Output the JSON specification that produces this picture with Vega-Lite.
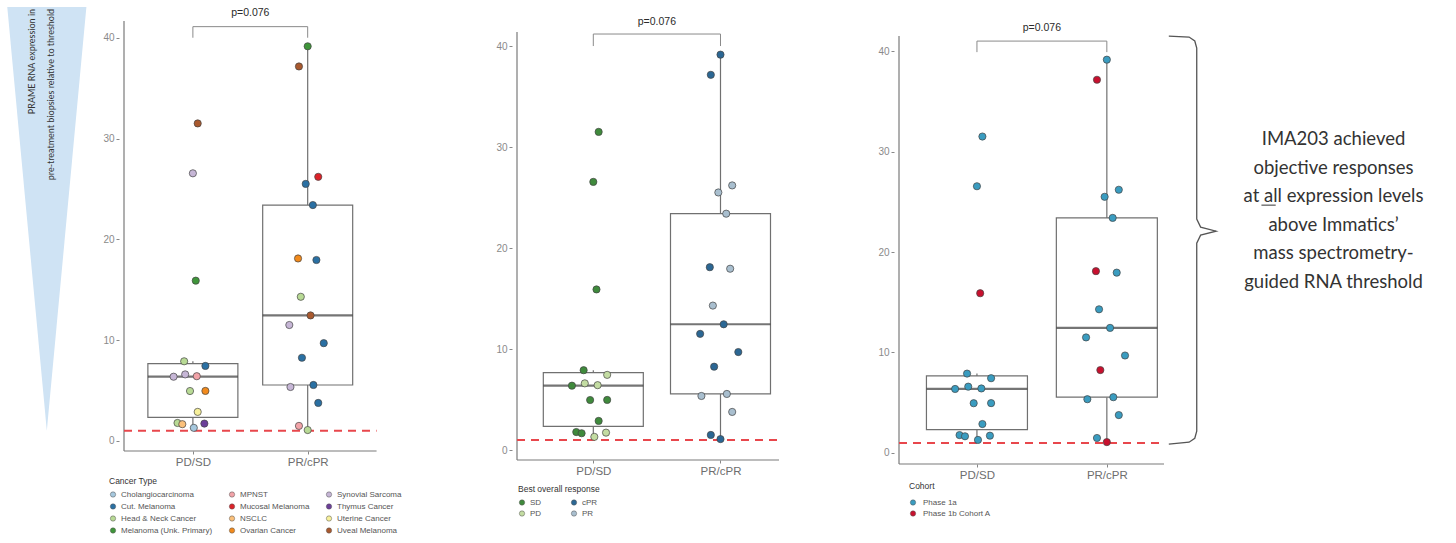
{
  "$schema": "https://vega.github.io/schema/vega-lite/v6.json",
  "padding": {"left": 7, "top": 6, "right": 5, "bottom": 2},
  "background": "white",
  "bounds": "flush",
  "spacing": 110,
  "config": {
    "view": {"stroke": null},
    "font": "Liberation Sans",
    "legend": {"labelFont": "Liberation Sans", "titleFont": "Liberation Sans"}
  },
  "resolve": {"scale": {"color": "independent"}, "legend": {"color": "independent"}},
  "datasets": {
    "pts": [
      {"grp": 1, "j": 0.042, "v": 31.5, "cancer": "Uveal Melanoma", "bor": "SD", "cohort": "Phase 1a"},
      {"grp": 1, "j": 0.0, "v": 26.55, "cancer": "Synovial Sarcoma", "bor": "SD", "cohort": "Phase 1a"},
      {"grp": 1, "j": 0.025, "v": 15.9, "cancer": "Melanoma (Unk. Primary)", "bor": "SD", "cohort": "Phase 1b Cohort A"},
      {"grp": 1, "j": -0.076, "v": 7.9, "cancer": "Head & Neck Cancer", "bor": "SD", "cohort": "Phase 1a"},
      {"grp": 1, "j": 0.109, "v": 7.44, "cancer": "Cut. Melanoma", "bor": "PD", "cohort": "Phase 1a"},
      {"grp": 1, "j": -0.168, "v": 6.37, "cancer": "Synovial Sarcoma", "bor": "SD", "cohort": "Phase 1a"},
      {"grp": 1, "j": -0.067, "v": 6.6, "cancer": "Synovial Sarcoma", "bor": "PD", "cohort": "Phase 1a"},
      {"grp": 1, "j": 0.034, "v": 6.42, "cancer": "MPNST", "bor": "PD", "cohort": "Phase 1a"},
      {"grp": 1, "j": -0.025, "v": 4.95, "cancer": "Head & Neck Cancer", "bor": "SD", "cohort": "Phase 1a"},
      {"grp": 1, "j": 0.109, "v": 4.96, "cancer": "Ovarian Cancer", "bor": "SD", "cohort": "Phase 1a"},
      {"grp": 1, "j": 0.042, "v": 2.88, "cancer": "Uterine Cancer", "bor": "SD", "cohort": "Phase 1a"},
      {"grp": 1, "j": -0.134, "v": 1.78, "cancer": "Head & Neck Cancer", "bor": "SD", "cohort": "Phase 1a"},
      {"grp": 1, "j": -0.092, "v": 1.66, "cancer": "NSCLC", "bor": "SD", "cohort": "Phase 1a"},
      {"grp": 1, "j": 0.008, "v": 1.3, "cancer": "Cholangiocarcinoma", "bor": "PD", "cohort": "Phase 1a"},
      {"grp": 1, "j": 0.1, "v": 1.72, "cancer": "Thymus Cancer", "bor": "PD", "cohort": "Phase 1a"},
      {"grp": 2, "j": 0.0, "v": 39.15, "cancer": "Melanoma (Unk. Primary)", "bor": "cPR", "cohort": "Phase 1a"},
      {"grp": 2, "j": -0.076, "v": 37.15, "cancer": "Uveal Melanoma", "bor": "cPR", "cohort": "Phase 1b Cohort A"},
      {"grp": 2, "j": 0.092, "v": 26.2, "cancer": "Mucosal Melanoma", "bor": "PR", "cohort": "Phase 1a"},
      {"grp": 2, "j": -0.017, "v": 25.5, "cancer": "Cut. Melanoma", "bor": "PR", "cohort": "Phase 1a"},
      {"grp": 2, "j": 0.045, "v": 23.4, "cancer": "Cut. Melanoma", "bor": "PR", "cohort": "Phase 1a"},
      {"grp": 2, "j": -0.084, "v": 18.1, "cancer": "Ovarian Cancer", "bor": "cPR", "cohort": "Phase 1b Cohort A"},
      {"grp": 2, "j": 0.076, "v": 17.95, "cancer": "Cut. Melanoma", "bor": "PR", "cohort": "Phase 1a"},
      {"grp": 2, "j": -0.06, "v": 14.3, "cancer": "Head & Neck Cancer", "bor": "PR", "cohort": "Phase 1a"},
      {"grp": 2, "j": 0.025, "v": 12.45, "cancer": "Uveal Melanoma", "bor": "cPR", "cohort": "Phase 1a"},
      {"grp": 2, "j": -0.16, "v": 11.5, "cancer": "Synovial Sarcoma", "bor": "cPR", "cohort": "Phase 1a"},
      {"grp": 2, "j": 0.14, "v": 9.7, "cancer": "Cut. Melanoma", "bor": "cPR", "cohort": "Phase 1a"},
      {"grp": 2, "j": -0.05, "v": 8.25, "cancer": "Cut. Melanoma", "bor": "cPR", "cohort": "Phase 1b Cohort A"},
      {"grp": 2, "j": -0.15, "v": 5.35, "cancer": "Synovial Sarcoma", "bor": "PR", "cohort": "Phase 1a"},
      {"grp": 2, "j": 0.05, "v": 5.55, "cancer": "Cut. Melanoma", "bor": "PR", "cohort": "Phase 1a"},
      {"grp": 2, "j": 0.092, "v": 3.77, "cancer": "Cut. Melanoma", "bor": "PR", "cohort": "Phase 1a"},
      {"grp": 2, "j": -0.076, "v": 1.49, "cancer": "MPNST", "bor": "cPR", "cohort": "Phase 1a"},
      {"grp": 2, "j": 0.0, "v": 1.08, "cancer": "Head & Neck Cancer", "bor": "cPR", "cohort": "Phase 1b Cohort A"}
    ]
  },
  "hconcat": [
    {
      "width": 283,
      "height": 430,
      "layer": [
        {
          "data": {"values": [{"a": 0.4, "b": 2.6, "c": -1, "d": -1}, {"a": 0.4, "b": 0.4, "c": -1, "d": 41.66}]},
          "mark": {"type": "rule", "color": "#7a7a7a", "strokeWidth": 1.2},
          "encoding": {
            "x": {"field": "a", "type": "quantitative", "scale": {"domain": [0.4, 2.778], "nice": false, "zero": false},
                  "axis": {"values": [1, 2], "labelExpr": "datum.value == 1 ? 'PD/SD' : 'PR/cPR'", "title": null, "domain": false, "grid": false, "ticks": true, "tickSize": 3, "tickColor": "#888888", "labelColor": "#6e6e6e", "labelFont": "Liberation Sans", "labelFontSize": 11.5, "labelPadding": 2}},
            "x2": {"field": "b"},
            "y": {"field": "c", "type": "quantitative", "scale": {"domain": [-1, 41.66], "nice": false, "zero": false},
                  "axis": {"values": [0, 10, 20, 30, 40], "title": null, "domain": false, "grid": false, "ticks": true, "tickSize": 3, "tickColor": "#888888", "labelColor": "#8a8a8a", "labelFont": "Liberation Sans", "labelFontSize": 10, "labelPadding": 2}},
            "y2": {"field": "d"}
          }
        },
        {
          "data": {"values": [{"tx": -0.6168, "tx2": 0.0723, "ty": 43.05}, {"tx": -0.2723, "tx2": -0.2723, "ty": 1.0}]},
          "mark": {"type": "area", "orient": "horizontal", "color": "#cfe3f4"},
          "encoding": {
            "y": {"field": "ty", "type": "quantitative"},
            "x": {"field": "tx", "type": "quantitative", "stack": null},
            "x2": {"field": "tx2"}
          }
        },
        {
          "data": {"values": [
            {"tx": -0.398, "ty": 42.86, "t": "PRAME RNA expression in"},
            {"tx": -0.2387, "ty": 42.86, "t": "pre-treatment biopsies relative to threshold"}
          ]},
          "mark": {"type": "text", "angle": 270, "align": "right", "baseline": "middle", "font": "Lato", "fontSize": 9, "color": "#333333"},
          "encoding": {
            "x": {"field": "tx", "type": "quantitative"},
            "y": {"field": "ty", "type": "quantitative"},
            "text": {"field": "t"}
          }
        },
        {
          "data": {"name": "pts"},
          "mark": {"type": "boxplot", "orient": "vertical", "extent": 1.5, "size": 90, "outliers": false, "ticks": false,
                   "box": {"fill": "white", "stroke": "#707070", "strokeWidth": 1.2},
                   "median": {"color": "#3a3a3a", "thickness": 2.2},
                   "rule": {"color": "#707070", "strokeWidth": 1.2}},
          "encoding": {
            "x": {"field": "grp", "type": "quantitative"},
            "y": {"field": "v", "type": "quantitative"}
          }
        },
        {
          "data": {"values": [{"a": 0.4, "b": 2.6, "c": 1}]},
          "mark": {"type": "rule", "color": "#e8474c", "strokeDash": [8, 6], "strokeWidth": 2},
          "encoding": {
            "x": {"field": "a", "type": "quantitative"},
            "x2": {"field": "b"},
            "y": {"field": "c", "type": "quantitative"}
          }
        },
        {
          "data": {"values": [{"a": 1, "b": 2, "c": 41.1, "d": 41.1}, {"a": 1, "b": 1, "c": 40.0, "d": 41.1}, {"a": 2, "b": 2, "c": 40.0, "d": 41.1}]},
          "mark": {"type": "rule", "color": "#8a8a8a", "strokeWidth": 1},
          "encoding": {
            "x": {"field": "a", "type": "quantitative"},
            "x2": {"field": "b"},
            "y": {"field": "c", "type": "quantitative"},
            "y2": {"field": "d"}
          }
        },
        {
          "data": {"values": [{"px": 1.5, "py": 42.46, "t": "p=0.076"}]},
          "mark": {"type": "text", "fontSize": 10.5, "color": "#2a2a2a", "baseline": "middle"},
          "encoding": {
            "x": {"field": "px", "type": "quantitative"},
            "y": {"field": "py", "type": "quantitative"},
            "text": {"field": "t"}
          }
        },
        {
          "data": {"name": "pts"},
          "transform": [{"calculate": "datum.grp + datum.j", "as": "xp"}],
          "mark": {"type": "circle", "size": 52, "opacity": 1, "stroke": "#444444", "strokeWidth": 0.7},
          "encoding": {
            "x": {"field": "xp", "type": "quantitative"},
            "y": {"field": "v", "type": "quantitative"},
            "color": {"field": "cancer", "type": "nominal",
              "scale": {"domain": ["Cholangiocarcinoma", "Cut. Melanoma", "Head & Neck Cancer", "Melanoma (Unk. Primary)", "MPNST", "Mucosal Melanoma", "NSCLC", "Ovarian Cancer", "Synovial Sarcoma", "Thymus Cancer", "Uterine Cancer", "Uveal Melanoma"],
                        "range": ["#a6c8de", "#2a70a3", "#b8da95", "#3f953a", "#f2a3a8", "#dc2228", "#fbc07a", "#f28a1c", "#c6b6d6", "#6b3f98", "#f7f09a", "#a9592e"]},
              "legend": {"title": "Cancer Type", "orient": "none", "legendX": -10, "legendY": 456, "columns": 3, "columnPadding": 15, "rowPadding": 4, "symbolType": "circle", "symbolSize": 28, "labelFontSize": 8, "titleFontSize": 8.5, "titleFontWeight": "normal", "titleColor": "#333333", "labelColor": "#555555", "titlePadding": 5, "labelOffset": 4, "symbolStrokeColor": "#555555", "symbolStrokeWidth": 0.5}
            }
          }
        }
      ]
    },
    {
      "width": 272,
      "height": 439,
      "layer": [
        {
          "data": {"values": [{"a": 0.4, "b": 2.46, "c": -0.99, "d": -0.99}, {"a": 0.4, "b": 0.4, "c": -0.99, "d": 41.4}]},
          "mark": {"type": "rule", "color": "#7a7a7a", "strokeWidth": 1.2},
          "encoding": {
            "x": {"field": "a", "type": "quantitative", "scale": {"domain": [0.4, 2.46], "nice": false, "zero": false},
                  "axis": {"values": [1, 2], "labelExpr": "datum.value == 1 ? 'PD/SD' : 'PR/cPR'", "title": null, "domain": false, "grid": false, "ticks": true, "tickSize": 3, "tickColor": "#888888", "labelColor": "#6e6e6e", "labelFont": "Liberation Sans", "labelFontSize": 11.5, "labelPadding": 2}},
            "x2": {"field": "b"},
            "y": {"field": "c", "type": "quantitative", "scale": {"domain": [-0.99, 42.48], "nice": false, "zero": false},
                  "axis": {"values": [0, 10, 20, 30, 40], "title": null, "domain": false, "grid": false, "ticks": true, "tickSize": 3, "tickColor": "#888888", "labelColor": "#8a8a8a", "labelFont": "Liberation Sans", "labelFontSize": 10, "labelPadding": 2}},
            "y2": {"field": "d"}
          }
        },
        {
          "data": {"name": "pts"},
          "mark": {"type": "boxplot", "orient": "vertical", "extent": 1.5, "size": 100, "outliers": false, "ticks": false,
                   "box": {"fill": "white", "stroke": "#707070", "strokeWidth": 1.2},
                   "median": {"color": "#3a3a3a", "thickness": 2.2},
                   "rule": {"color": "#707070", "strokeWidth": 1.2}},
          "encoding": {
            "x": {"field": "grp", "type": "quantitative"},
            "y": {"field": "v", "type": "quantitative"}
          }
        },
        {
          "data": {"values": [{"a": 0.4, "b": 2.46, "c": 1}]},
          "mark": {"type": "rule", "color": "#e8474c", "strokeDash": [8, 6], "strokeWidth": 2},
          "encoding": {
            "x": {"field": "a", "type": "quantitative"},
            "x2": {"field": "b"},
            "y": {"field": "c", "type": "quantitative"}
          }
        },
        {
          "data": {"values": [{"a": 1, "b": 2, "c": 41.19, "d": 41.19}, {"a": 1, "b": 1, "c": 40.0, "d": 41.19}, {"a": 2, "b": 2, "c": 40.0, "d": 41.19}]},
          "mark": {"type": "rule", "color": "#8a8a8a", "strokeWidth": 1},
          "encoding": {
            "x": {"field": "a", "type": "quantitative"},
            "x2": {"field": "b"},
            "y": {"field": "c", "type": "quantitative"},
            "y2": {"field": "d"}
          }
        },
        {
          "data": {"values": [{"px": 1.5, "py": 42.4, "t": "p=0.076"}]},
          "mark": {"type": "text", "fontSize": 10.5, "color": "#2a2a2a", "baseline": "middle"},
          "encoding": {
            "x": {"field": "px", "type": "quantitative"},
            "y": {"field": "py", "type": "quantitative"},
            "text": {"field": "t"}
          }
        },
        {
          "data": {"name": "pts"},
          "transform": [{"calculate": "datum.grp + datum.j", "as": "xp"}],
          "mark": {"type": "circle", "size": 52, "opacity": 1, "stroke": "#444444", "strokeWidth": 0.7},
          "encoding": {
            "x": {"field": "xp", "type": "quantitative"},
            "y": {"field": "v", "type": "quantitative"},
            "color": {"field": "bor", "type": "nominal",
              "scale": {"domain": ["SD", "PD", "cPR", "PR"], "range": ["#3f8a3c", "#c3dca2", "#2b6794", "#a9bfcf"]},
              "legend": {"title": "Best overall response", "orient": "none", "legendX": 6, "legendY": 464, "columns": 2, "columnPadding": 28, "rowPadding": 3, "symbolType": "circle", "symbolSize": 28, "labelFontSize": 8, "titleFontSize": 8.5, "titleFontWeight": "normal", "titleColor": "#333333", "labelColor": "#555555", "titlePadding": 5, "labelOffset": 4, "symbolStrokeColor": "#555555", "symbolStrokeWidth": 0.5}
            }
          }
        }
      ]
    },
    {
      "width": 275,
      "height": 443,
      "layer": [
        {
          "data": {"values": [{"a": 0.4, "b": 2.44, "c": -1.1, "d": -1.1}, {"a": 0.4, "b": 0.4, "c": -1.1, "d": 41.5}]},
          "mark": {"type": "rule", "color": "#7a7a7a", "strokeWidth": 1.2},
          "encoding": {
            "x": {"field": "a", "type": "quantitative", "scale": {"domain": [0.4, 2.44], "nice": false, "zero": false},
                  "axis": {"values": [1, 2], "labelExpr": "datum.value == 1 ? 'PD/SD' : 'PR/cPR'", "title": null, "domain": false, "grid": false, "ticks": true, "tickSize": 3, "tickColor": "#888888", "labelColor": "#6e6e6e", "labelFont": "Liberation Sans", "labelFontSize": 11.5, "labelPadding": 2}},
            "x2": {"field": "b"},
            "y": {"field": "c", "type": "quantitative", "scale": {"domain": [-1.1, 43.0], "nice": false, "zero": false},
                  "axis": {"values": [0, 10, 20, 30, 40], "title": null, "domain": false, "grid": false, "ticks": true, "tickSize": 3, "tickColor": "#888888", "labelColor": "#8a8a8a", "labelFont": "Liberation Sans", "labelFontSize": 10, "labelPadding": 2}},
            "y2": {"field": "d"}
          }
        },
        {
          "data": {"name": "pts"},
          "mark": {"type": "boxplot", "orient": "vertical", "extent": 1.5, "size": 101, "outliers": false, "ticks": false,
                   "box": {"fill": "white", "stroke": "#707070", "strokeWidth": 1.2},
                   "median": {"color": "#3a3a3a", "thickness": 2.2},
                   "rule": {"color": "#707070", "strokeWidth": 1.2}},
          "encoding": {
            "x": {"field": "grp", "type": "quantitative"},
            "y": {"field": "v", "type": "quantitative"}
          }
        },
        {
          "data": {"values": [{"a": 0.4, "b": 2.42, "c": 1}]},
          "mark": {"type": "rule", "color": "#e8474c", "strokeDash": [8, 6], "strokeWidth": 2},
          "encoding": {
            "x": {"field": "a", "type": "quantitative"},
            "x2": {"field": "b"},
            "y": {"field": "c", "type": "quantitative"}
          }
        },
        {
          "data": {"values": [{"a": 1, "b": 2, "c": 41.0, "d": 41.0}, {"a": 1, "b": 1, "c": 39.9, "d": 41.0}, {"a": 2, "b": 2, "c": 39.9, "d": 41.0}]},
          "mark": {"type": "rule", "color": "#8a8a8a", "strokeWidth": 1},
          "encoding": {
            "x": {"field": "a", "type": "quantitative"},
            "x2": {"field": "b"},
            "y": {"field": "c", "type": "quantitative"},
            "y2": {"field": "d"}
          }
        },
        {
          "data": {"values": [{"px": 1.5, "py": 42.3, "t": "p=0.076"}]},
          "mark": {"type": "text", "fontSize": 10.5, "color": "#2a2a2a", "baseline": "middle"},
          "encoding": {
            "x": {"field": "px", "type": "quantitative"},
            "y": {"field": "py", "type": "quantitative"},
            "text": {"field": "t"}
          }
        },
        {
          "data": {"values": [
            {"o": 1, "bx": 2.477, "by": 41.5},
            {"o": 2, "bx": 2.633, "by": 41.4},
            {"o": 3, "bx": 2.677, "by": 41.01},
            {"o": 4, "bx": 2.692, "by": 40.31},
            {"o": 5, "bx": 2.692, "by": 23.28},
            {"o": 6, "bx": 2.722, "by": 22.48},
            {"o": 7, "bx": 2.841, "by": 22.08},
            {"o": 8, "bx": 2.722, "by": 21.68},
            {"o": 9, "bx": 2.692, "by": 20.89},
            {"o": 10, "bx": 2.692, "by": 2.16},
            {"o": 11, "bx": 2.677, "by": 1.46},
            {"o": 12, "bx": 2.633, "by": 1.07},
            {"o": 13, "bx": 2.477, "by": 0.87}
          ]},
          "mark": {"type": "line", "color": "#555555", "strokeWidth": 1.3},
          "encoding": {
            "x": {"field": "bx", "type": "quantitative"},
            "y": {"field": "by", "type": "quantitative"},
            "order": {"field": "o"}
          }
        },
        {
          "data": {"values": [
            {"ax": 3.745, "ay": 31.24, "t": "IMA203 achieved"},
            {"ax": 3.745, "ay": 28.4, "t": "objective responses"},
            {"ax": 3.745, "ay": 25.57, "t": "at all expression levels"},
            {"ax": 3.745, "ay": 22.73, "t": "above Immatics’"},
            {"ax": 3.745, "ay": 19.89, "t": "mass spectrometry-"},
            {"ax": 3.745, "ay": 17.05, "t": "guided RNA threshold"}
          ]},
          "mark": {"type": "text", "font": "Lato", "fontSize": 18.5, "color": "#333333", "align": "center", "baseline": "middle"},
          "encoding": {
            "x": {"field": "ax", "type": "quantitative"},
            "y": {"field": "ay", "type": "quantitative"},
            "text": {"field": "t"}
          }
        },
        {
          "data": {"values": [{"a": 3.19, "b": 3.30, "c": 24.67}]},
          "mark": {"type": "rule", "color": "#333333", "strokeWidth": 1},
          "encoding": {
            "x": {"field": "a", "type": "quantitative"},
            "x2": {"field": "b"},
            "y": {"field": "c", "type": "quantitative"}
          }
        },
        {
          "data": {"name": "pts"},
          "transform": [{"calculate": "datum.grp + datum.j", "as": "xp"}],
          "mark": {"type": "circle", "size": 52, "opacity": 1, "stroke": "#444444", "strokeWidth": 0.7},
          "encoding": {
            "x": {"field": "xp", "type": "quantitative"},
            "y": {"field": "v", "type": "quantitative"},
            "color": {"field": "cohort", "type": "nominal",
              "scale": {"domain": ["Phase 1a", "Phase 1b Cohort A"], "range": ["#3a9cc0", "#c8102e"]},
              "legend": {"title": "Cohort", "orient": "none", "legendX": 15, "legendY": 461, "columns": 1, "rowPadding": 3, "symbolType": "circle", "symbolSize": 28, "labelFontSize": 8, "titleFontSize": 8.5, "titleFontWeight": "normal", "titleColor": "#333333", "labelColor": "#555555", "titlePadding": 8, "labelOffset": 6, "symbolStrokeColor": "#555555", "symbolStrokeWidth": 0.5}
            }
          }
        }
      ]
    }
  ]
}
